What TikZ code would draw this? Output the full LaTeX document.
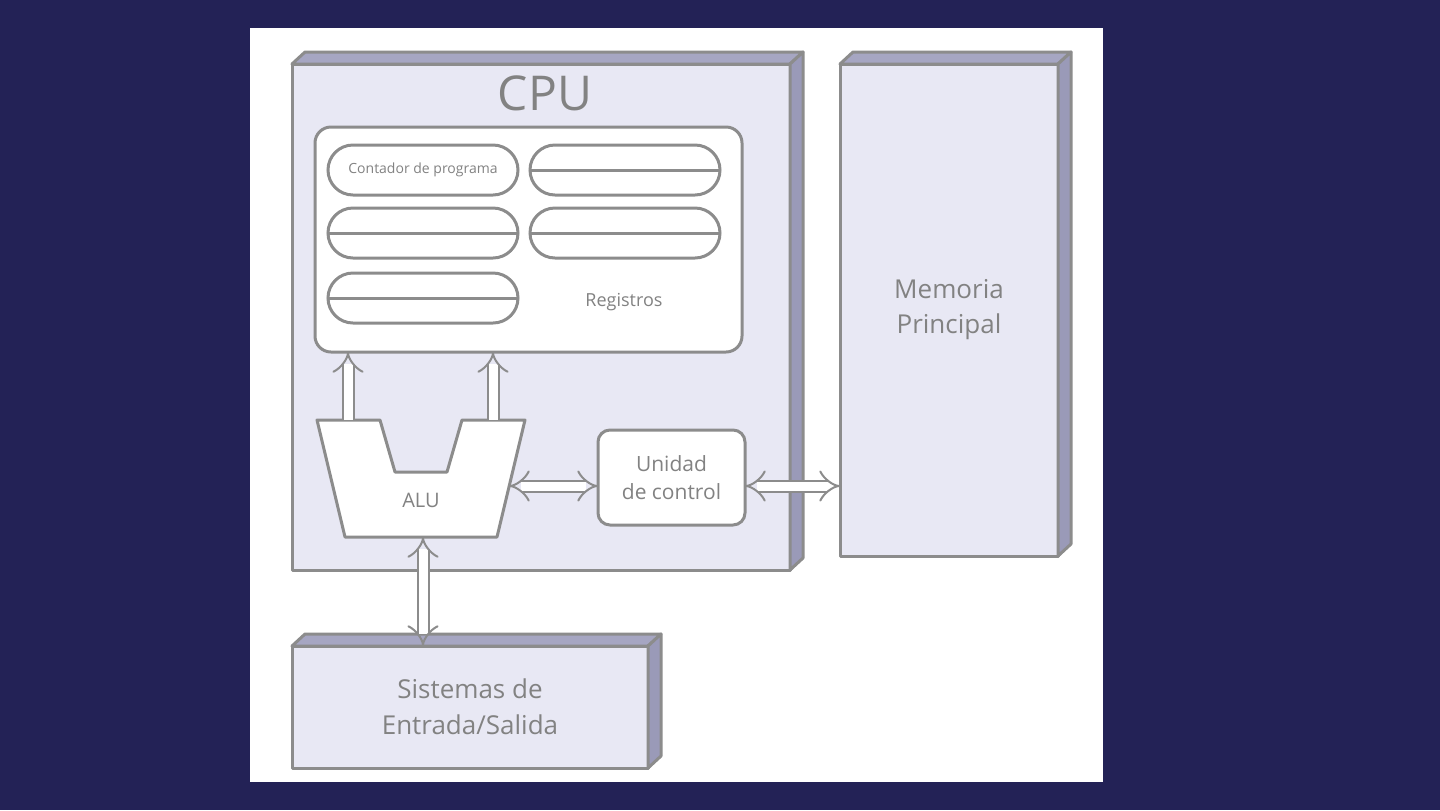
\documentclass[tikz,border=0pt]{standalone}
\usepackage{fontspec}
\setmainfont{Open Sans}
\usetikzlibrary{arrows.meta,calc}
\definecolor{bgnavy}{RGB}{35,34,86}
\definecolor{facefill}{RGB}{232,232,244}
\definecolor{topfill}{RGB}{166,166,194}
\definecolor{sidefill}{RGB}{154,154,184}
\definecolor{edge}{RGB}{140,140,140}
\definecolor{txt}{RGB}{130,130,130}
\begin{document}
\begin{tikzpicture}[x=0.5pt,y=-0.5pt,
  front/.style={draw=edge, line width=1.5pt, fill=facefill, inner sep=0pt, outer sep=0pt, line join=round},
  face3d/.style={draw=edge, line width=1.5pt, line join=round},
  regbox/.style={draw=edge, line width=1.5pt, fill=white, rounded corners=8pt, inner sep=0pt, outer sep=0pt},
  pill/.style={draw=edge, line width=1.5pt, fill=white, rounded corners=12.5pt, minimum width=95pt, minimum height=25pt, inner sep=0pt, outer sep=0pt},
  divider/.style={draw=edge, line width=1.5pt},
  lbl/.style={text=txt, align=center},
  fat/.style={draw=edge, line width=1pt, double=white, double distance=4.5pt, {Implies}-{Implies}},
  fatup/.style={draw=edge, line width=1pt, double=white, double distance=4.5pt, -{Implies}},
]
\useasboundingbox (0,0) rectangle (1440,810);
\fill[bgnavy] (0,0) rectangle (1440,810);
\fill[white] (250,28) rectangle (1103,782);

% CPU box
\node[front, minimum width=249pt, minimum height=253pt] (cpu) at (541,317) {};
\draw[face3d, fill=topfill] (cpu.north west) -- ++(13,-12) -- ($(cpu.north east)+(13,-12)$) -- (cpu.north east) -- cycle;
\draw[face3d, fill=sidefill] (cpu.north east) -- ++(13,-12) -- ($(cpu.south east)+(13,-12)$) -- (cpu.south east) -- cycle;
\node[lbl, font=\fontsize{24}{28}\selectfont] (cputitle) at (545,93) {CPU};

% Memoria
\node[front, minimum width=109pt, minimum height=246pt, lbl, font=\fontsize{13}{17.5}\selectfont] (mem) at (949,310) {Memoria\\Principal};
\draw[face3d, fill=topfill] (mem.north west) -- ++(13,-12) -- ($(mem.north east)+(13,-12)$) -- (mem.north east) -- cycle;
\draw[face3d, fill=sidefill] (mem.north east) -- ++(13,-12) -- ($(mem.south east)+(13,-12)$) -- (mem.south east) -- cycle;

% Entrada/Salida
\node[front, minimum width=178pt, minimum height=61pt, lbl, font=\fontsize{13}{18}\selectfont] (es) at (470,707) {Sistemas de\\Entrada/Salida};
\draw[face3d, fill=topfill] (es.north west) -- ++(13,-12) -- ($(es.north east)+(13,-12)$) -- (es.north east) -- cycle;
\draw[face3d, fill=sidefill] (es.north east) -- ++(13,-12) -- ($(es.south east)+(13,-12)$) -- (es.south east) -- cycle;

% Registros
\node[regbox, minimum width=213.5pt, minimum height=112.5pt] (reg) at (528.5,239.5) {};
\node[pill, lbl, font=\fontsize{7}{8}\selectfont] (p1) at (423,170) {Contador de programa};
\node[pill] (p2) at (625,170) {};
\node[pill] (p3) at (423,233) {};
\node[pill] (p4) at (625,233) {};
\node[pill] (p5) at (423,298) {};
\draw[divider] (p2.west) -- (p2.east);
\draw[divider] (p3.west) -- (p3.east);
\draw[divider] (p4.west) -- (p4.east);
\draw[divider] (p5.west) -- (p5.east);
\node[lbl, font=\fontsize{9}{11}\selectfont] (reglbl) at (624,302) {Registros};

% ALU
\draw[draw=edge, line width=1.5pt, fill=white, line join=round]
  (317,420) -- (380,420) -- (395,472) -- (447,472) -- (462,420) -- (525,420) -- (497,537) -- (345,537) -- cycle;
\node[lbl, font=\fontsize{10}{12}\selectfont] (alulbl) at (421,500) {ALU};
\coordinate (aluA) at (348,420);
\coordinate (aluB) at (493,420);
\coordinate (aluR) at (509,486);
\coordinate (aluBot) at (423,537);

% Unidad de control
\node[regbox, rounded corners=6pt, minimum width=73.5pt, minimum height=47.5pt, lbl, font=\fontsize{10.5}{14}\selectfont] (uc) at (671.5,477.5) {Unidad\\de control};

% Connectors
\draw[fatup] (aluA) -- (aluA |- reg.south);
\draw[fatup] (aluB) -- (aluB |- reg.south);
\draw[fat] (aluR) -- (aluR -| uc.west);
\draw[fat] (aluR -| uc.east) -- (aluR -| mem.west);
\draw[fat] (aluBot) -- (aluBot |- es.north);
\end{tikzpicture}
\end{document}
